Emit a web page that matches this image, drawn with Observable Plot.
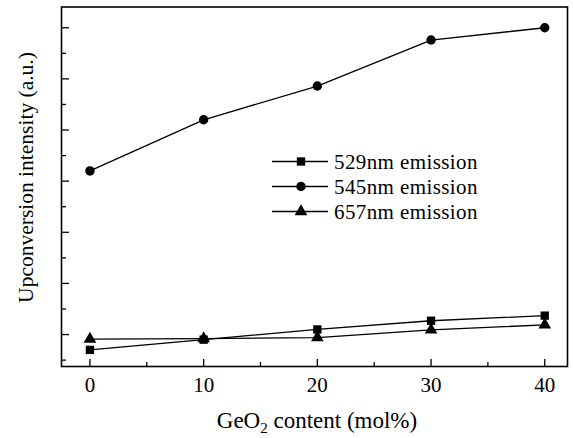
<!DOCTYPE html>
<html>
<head>
<meta charset="utf-8">
<script src="https://cdn.jsdelivr.net/npm/d3@7"></script>
<script src="https://cdn.jsdelivr.net/npm/@observablehq/plot@0.6"></script>
<style>
  html, body { margin: 0; padding: 0; background: #fff; }
  svg { display: block; }
</style>
</head>
<body>
<div id="chart"></div>
<script>
// GeO2 content (mol%)
const geo2 = [0, 10, 20, 30, 40];
// Upconversion intensity (a.u.)
const em529 = [0.70, 0.90, 1.10, 1.27, 1.37];
const em545 = [4.20, 5.20, 5.86, 6.76, 7.00];
const em657 = [0.91, 0.92, 0.94, 1.09, 1.19];

const seriesNames = ["529nm emission", "545nm emission", "657nm emission"];
const seriesSymbols = ["square", "circle", "triangle"];
const seriesValues = [em529, em545, em657];

const xTicks = [0, 10, 20, 30, 40];
const xMinorTicks = [5, 15, 25, 35];
const yMajorTicks = [1, 2, 3, 4, 5, 6, 7];
const yMinorTicks = [0.5, 1.5, 2.5, 3.5, 4.5, 5.5, 6.5];

const xLabel = ["GeO", "2", " content (mol%)"];
const yLabel = "Upconversion intensity (a.u.)";

const rows = [];
seriesNames.forEach((name, i) => {
  geo2.forEach((g, j) => rows.push({series: name, symbol: seriesSymbols[i], x: g, y: seriesValues[i][j]}));
});

const W = 573, H = 438;
const mL = 61, mT = 6.5, mR = 6, mB = 72;
const plotW = W - mL - mR, plotH = H - mT - mB;
const font = "'Liberation Serif', 'Times New Roman', serif";

function legendMark(index, scales, values, dimensions) {
  const g = d3.create("svg:g");
  const x0 = 272, x1 = 328, xm = 301, xt = 334;
  const y0 = 161.5, step = 25;
  seriesNames.forEach((name, i) => {
    const y = y0 + i * step;
    g.append("line").attr("x1", x0).attr("x2", x1).attr("y1", y).attr("y2", y)
      .attr("stroke", "black").attr("stroke-width", 1.3);
    const sym = {square: d3.symbolSquare, circle: d3.symbolCircle, triangle: d3.symbolTriangle}[seriesSymbols[i]];
    g.append("path").attr("d", d3.symbol(sym, Math.PI * 4.7 * 4.7)())
      .attr("transform", `translate(${xm},${y})`).attr("fill", "black");
    g.append("text").attr("x", xt).attr("y", y).attr("dy", "0.35em").attr("text-anchor", "start")
      .attr("font-size", 21).attr("letter-spacing", 0.4).attr("font-family", font)
      .attr("fill", "black").text(name);
  });
  // axis titles
  const xt2 = g.append("text").attr("x", 317).attr("y", 428).attr("text-anchor", "middle")
    .attr("font-size", 23).attr("font-family", font).attr("fill", "black");
  xt2.append("tspan").text(xLabel[0]);
  xt2.append("tspan").attr("font-size", 15).attr("dy", 5).text(xLabel[1]);
  xt2.append("tspan").attr("dy", -5).text(xLabel[2]);
  g.append("text").attr("transform", "translate(33,177.5) rotate(-90)").attr("text-anchor", "middle")
    .attr("font-size", 21.5).attr("font-family", font).attr("fill", "black").text(yLabel);
  return g.node();
}

const chart = Plot.plot({
  width: W, height: H,
  marginLeft: mL, marginTop: mT, marginRight: mR, marginBottom: mB,
  style: {fontFamily: font, background: "white", color: "black"},
  x: {domain: [-2.5, 42], axis: null},
  y: {domain: [0.375, 7.406], axis: null},
  marks: [
    Plot.frame({stroke: "black", strokeWidth: 1.6}),
    Plot.tickX(xTicks, {x: d => d, insetTop: plotH - 7, stroke: "black", strokeWidth: 1.3}),
    Plot.tickX(xMinorTicks, {x: d => d, insetTop: plotH - 4, stroke: "black", strokeWidth: 1.3}),
    Plot.tickY(yMajorTicks, {y: d => d, insetRight: plotW - 8, stroke: "black", strokeWidth: 1.3}),
    Plot.tickY(yMinorTicks, {y: d => d, insetRight: plotW - 5, stroke: "black", strokeWidth: 1.3}),
    Plot.axisX(xTicks, {tickSize: 0, tickPadding: 11, fontSize: 21, label: null, tickFormat: d => String(d)}),
    Plot.line(rows, {x: "x", y: "y", z: "series", stroke: "black", strokeWidth: 1.3}),
    Plot.dot(rows, {x: "x", y: "y", symbol: "symbol", r: 4.7, fill: "black", stroke: "none"}),
    legendMark
  ]
});
document.getElementById("chart").append(chart);
</script>
</body>
</html>
